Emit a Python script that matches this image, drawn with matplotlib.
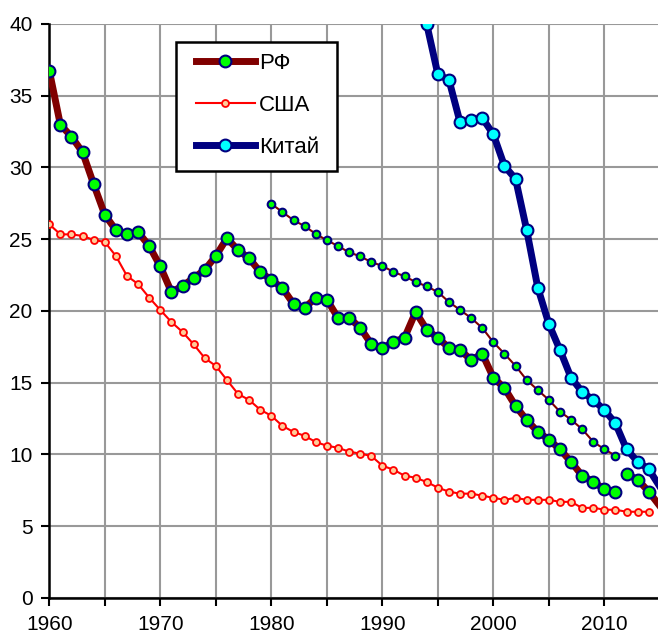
import numpy as np
import matplotlib.pyplot as plt
from matplotlib.patches import Rectangle

plt.rcParams['font.family'] = ['Liberation Sans', 'DejaVu Sans']

# РФ (основной ряд), 1960-2011 и 2012-2015
rf_years = np.arange(1960, 2012)
rf_vals = [36.75, 32.98, 32.15, 31.06, 28.83, 26.71, 25.64, 25.34, 25.50, 24.53,
           23.11, 21.32, 21.74, 22.30, 22.86, 23.83, 25.07, 24.25, 23.67, 22.72,
           22.16, 21.60, 20.49, 20.21, 20.93, 20.80, 19.53, 19.53, 18.84, 17.70,
           17.40, 17.84, 18.14, 19.93, 18.70, 18.12, 17.44, 17.28, 16.59, 17.02,
           15.35, 14.63, 13.38, 12.40, 11.59, 11.03, 10.36, 9.48, 8.52, 8.11,
           7.57, 7.41]
rf2_years = [2012, 2013, 2014, 2015]
rf2_vals = [8.64, 8.24, 7.41, 6.40]

# РФ, второй ряд (1980-2011)
rfb_years = np.arange(1980, 2012)
rfb_vals = [27.46, 26.90, 26.32, 25.92, 25.37, 24.93, 24.53, 24.09, 23.81, 23.41,
            23.14, 22.72, 22.42, 22.02, 21.72, 21.32, 20.63, 20.07, 19.51, 18.82,
            17.82, 17.02, 16.17, 15.19, 14.49, 13.80, 12.98, 12.43, 11.76, 10.89,
            10.36, 9.92]

# США
us_years = np.arange(1960, 2015)
us_vals = [26.04, 25.34, 25.34, 25.23, 24.95, 24.81, 23.83, 22.44, 21.88, 20.93,
           20.07, 19.23, 18.54, 17.68, 16.72, 16.17, 15.19, 14.22, 13.80, 13.12,
           12.70, 11.99, 11.57, 11.30, 10.87, 10.61, 10.47, 10.20, 10.06, 9.90,
           9.22, 8.94, 8.52, 8.38, 8.08, 7.69, 7.41, 7.27, 7.27, 7.13,
           6.98, 6.84, 6.98, 6.84, 6.84, 6.84, 6.70, 6.70, 6.27, 6.29,
           6.15, 6.15, 6.01, 6.01, 6.01]

# Китай
cn_years = np.arange(1993, 2016)
cn_vals = [43.5, 39.98, 36.49, 36.10, 33.15, 33.31, 33.45, 32.31, 30.10, 29.20,
           25.64, 21.63, 19.09, 17.28, 15.35, 14.36, 13.80, 13.10, 12.17, 10.36,
           9.50, 8.97, 7.75]

xticks = np.arange(1960, 2015, 5)
xlabels = [str(y) if y % 10 == 0 else '' for y in xticks]

W, H = 658, 633
fig = plt.figure(figsize=(W / 100, H / 100), dpi=100)
ax = fig.add_axes([0.0749, 0.0553, 0.928, 0.9068])

edge = '#000080'
ax.plot(rf_years, rf_vals, color='#800000', lw=5, marker='o', ms=8.5,
        mfc='#00ff00', mec=edge, mew=1.5, zorder=4, label='РФ')
ax.plot(rf2_years, rf2_vals, color='#800000', lw=5, marker='o', ms=8.5,
        mfc='#00ff00', mec=edge, mew=1.5, zorder=4, markevery=[0, 1, 2])
ax.plot(rfb_years, rfb_vals, color='#800000', lw=1.5, marker='o', ms=5.5,
        mfc='#00ff00', mec=edge, mew=1.5, zorder=3)
ax.plot(us_years, us_vals, color='#ff0000', lw=1.5, marker='o', ms=5,
        mfc='#ffcc99', mec='#ff0000', mew=1.3, zorder=3, label='США')
ax.plot(cn_years, cn_vals, color='#000080', lw=5, marker='o', ms=8.5,
        mfc='#00ffff', mec=edge, mew=1.5, zorder=5, label='Китай',
        markevery=list(range(1, len(cn_years) - 1)))

ax.set_xlim(1960, 2015)
ax.set_ylim(0, 40)
ax.set_xticks(xticks)
ax.set_xticklabels(xlabels)
ax.set_yticks(np.arange(0, 41, 5))
ax.tick_params(labelsize=15, length=6, width=1.5, direction='out', pad=6)
ax.grid(True, color='#999999', lw=1.5, zorder=0)
ax.set_axisbelow(True)
for s in ['top', 'right']:
    ax.spines[s].set_visible(False)
for s in ['left', 'bottom']:
    ax.spines[s].set_linewidth(1.8)
    ax.spines[s].set_color('black')

# рамка легенды
box = Rectangle((176 / W, 1 - 171 / H), 161 / W, 129 / H, transform=fig.transFigure,
                facecolor='white', edgecolor='black', lw=1.8, zorder=6)
ax.add_patch(box)

leg = ax.legend(loc='upper left', bbox_to_anchor=(196 / W, 1 - 53 / H),
                bbox_transform=fig.transFigure, fontsize=16, frameon=False,
                handlelength=2.65, handletextpad=0.18, labelspacing=0.95,
                borderpad=0, borderaxespad=0)
leg.set_zorder(7)

fig.savefig('out.png', dpi=100)
